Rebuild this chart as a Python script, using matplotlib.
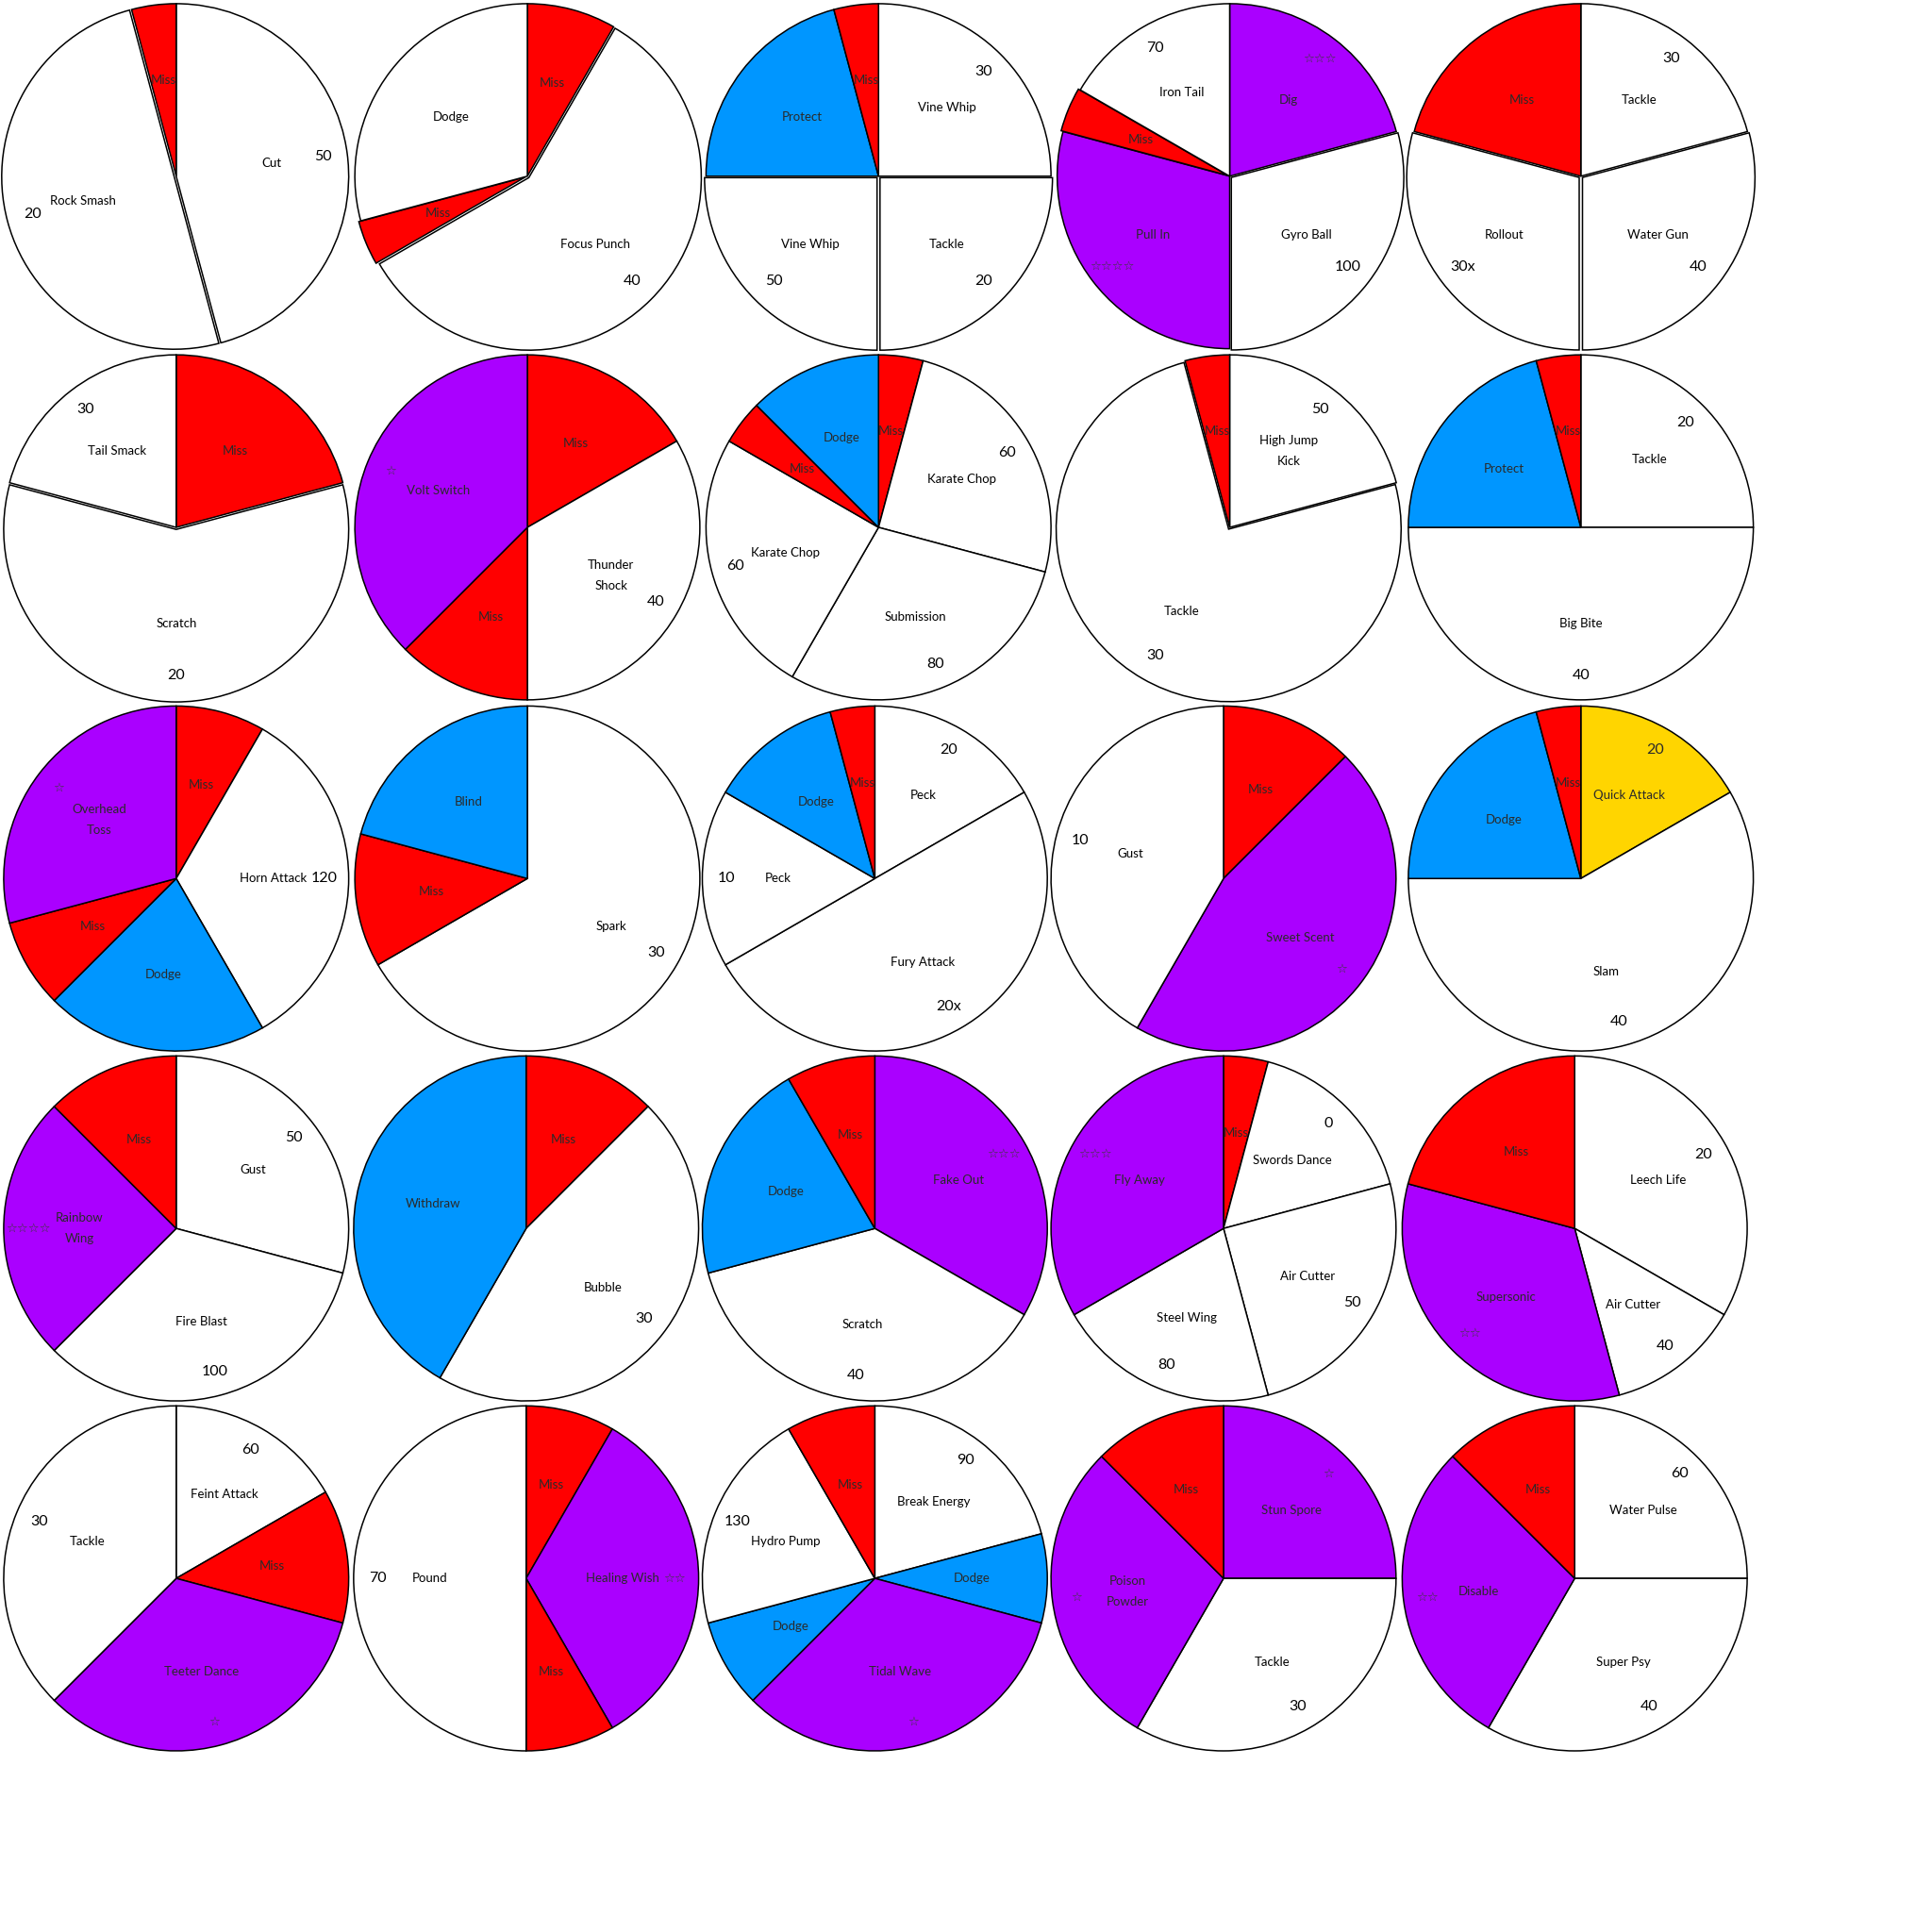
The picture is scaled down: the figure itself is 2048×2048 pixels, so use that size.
import numpy as np
import matplotlib.pyplot as plt

plt.rcParams['font.family'] = ['Lato', 'DejaVu Sans']

# kolo ataku: nazwy ruchow, rozmiar pola (na 96), typ pola, sila
moves = [
    ["Cut", "Rock Smash", "Miss"],
    ["Miss", "Focus Punch", "Miss", "Dodge"],
    ["Vine Whip", "Tackle", "Vine Whip", "Protect", "Miss"],
    ["Dig", "Gyro Ball", "Pull In", "Miss", "Iron Tail"],
    ["Tackle", "Water Gun", "Rollout", "Miss"],
    ["Miss", "Scratch", "Tail Smack"],
    ["Miss", "Thunder\nShock", "Miss", "Volt Switch"],
    ["Miss", "Karate Chop", "Submission", "Karate Chop", "Miss", "Dodge"],
    ["High Jump\nKick", "Tackle", "Miss"],
    ["Tackle", "Big Bite", "Protect", "Miss"],
    ["Miss", "Horn Attack", "Dodge", "Miss", "Overhead\nToss"],
    ["Spark", "Miss", "Blind"],
    ["Peck", "Fury Attack", "Peck", "Dodge", "Miss"],
    ["Miss", "Sweet Scent", "Gust"],
    ["Quick Attack", "Slam", "Dodge", "Miss"],
    ["Gust", "Fire Blast", "Rainbow\nWing", "Miss"],
    ["Miss", "Bubble", "Withdraw"],
    ["Fake Out", "Scratch", "Dodge", "Miss"],
    ["Miss", "Swords Dance", "Air Cutter", "Steel Wing", "Fly Away"],
    ["Leech Life", "Air Cutter", "Supersonic", "Miss"],
    ["Feint Attack", "Miss", "Teeter Dance", "Tackle"],
    ["Miss", "Healing Wish", "Miss", "Pound"],
    ["Break Energy", "Dodge", "Tidal Wave", "Dodge", "Hydro Pump", "Miss"],
    ["Stun Spore", "Tackle", "Poison\nPowder", "Miss"],
    ["Water Pulse", "Super Psy", "Disable", "Miss"],
]
sizes = [
    [44, 48, 4],
    [8, 56, 4, 28],
    [24, 24, 24, 20, 4],
    [20, 28, 28, 4, 16],
    [20, 28, 28, 20],
    [20, 56, 20],
    [16, 32, 12, 36],
    [4, 24, 28, 24, 4, 12],
    [20, 72, 4],
    [24, 48, 20, 4],
    [8, 32, 20, 8, 28],
    [64, 12, 20],
    [16, 48, 16, 12, 4],
    [12, 44, 40],
    [16, 56, 20, 4],
    [28, 32, 24, 12],
    [12, 44, 40],
    [32, 36, 20, 8],
    [4, 16, 24, 20, 32],
    [32, 12, 32, 20],
    [16, 12, 32, 36],
    [8, 32, 8, 48],
    [20, 8, 32, 8, 20, 8],
    [24, 32, 28, 12],
    [24, 32, 28, 12],
]
# W bialy, M miss, B niebieski, P fioletowy, Y zolty
kinds = [
    "WWM", "MWMW", "WWWBM", "PWPMW", "WWWM",
    "MWW", "MWMP", "MWWWMB", "WWM", "WWBM",
    "MWBMP", "WMB", "WWWBM", "MPW", "YWBM",
    "WWPM", "MWB", "PWBM", "MWWWP", "WWPM",
    "WMPW", "MPMW", "WBPBWM", "PWPM", "WWPM",
]
power = [
    ["50", "20", ""],
    ["", "40", "", ""],
    ["30", "20", "50", "", ""],
    ["☆☆☆", "100", "☆☆☆☆", "", "70"],
    ["30", "40", "30x", ""],
    ["", "20", "30"],
    ["", "40", "", "☆"],
    ["", "60", "80", "60", "", ""],
    ["50", "30", ""],
    ["20", "40", "", ""],
    ["", "120", "", "", "☆"],
    ["30", "", ""],
    ["20", "20x", "10", "", ""],
    ["", "☆", "10"],
    ["20", "40", "", ""],
    ["50", "100", "☆☆☆☆", ""],
    ["", "30", ""],
    ["☆☆☆", "40", "", ""],
    ["", "0", "50", "80", "☆☆☆"],
    ["20", "40", "☆☆", ""],
    ["60", "", "☆", "30"],
    ["", "☆☆", "", "70"],
    ["90", "", "☆", "", "130", ""],
    ["☆", "30", "☆", ""],
    ["60", "40", "☆☆", ""],
]

kolory = {"W": "#FFFFFF", "M": "#FF0000", "B": "#0096FF", "P": "#AA00FF", "Y": "#FFD500"}

# pola lekko wysuniete (jak w excelu)
wysuniete = {0: [1], 1: [1, 2], 2: [1, 2], 3: [1, 3], 4: [1, 2], 5: [1], 8: [1]}

# srodki kol w pikselach (obraz 1568) -> przeliczone na 2048
srodki = [
    (143, 143), (428, 143), (713, 143), (998, 143), (1283, 143),
    (143, 428), (428, 428), (713, 428), (998, 428), (1283, 428),
    (143, 713), (428, 713), (710, 713), (993, 713), (1283, 713),
    (143, 997), (427, 997), (710, 997), (993, 997), (1278, 997),
    (143, 1281), (427, 1281), (710, 1281), (993, 1281), (1278, 1281),
]
skala = 2048 / 1568
R = 140 * skala
m = 1.03  # margines osi

fig = plt.figure(figsize=(20.48, 20.48), dpi=100)
fig.patch.set_facecolor('white')

for i in range(25):
    cx, cy = srodki[i][0] * skala, srodki[i][1] * skala
    Ra = R * m
    ax = fig.add_axes([(cx - Ra) / 2048, 1 - (cy + Ra) / 2048, 2 * Ra / 2048, 2 * Ra / 2048])
    explode = [0.012 if j in wysuniete.get(i, []) else 0 for j in range(len(sizes[i]))]
    wedges, _ = ax.pie(sizes[i], colors=[kolory[k] for k in kinds[i]], explode=explode,
                       startangle=90, counterclock=False, radius=1,
                       wedgeprops=dict(edgecolor='black', linewidth=1.1))
    for w, nazwa, p, k in zip(wedges, moves[i], power[i], kinds[i]):
        kat = np.deg2rad((w.theta1 + w.theta2) / 2)
        kol = 'black' if k == 'W' else '#2a2a2a'
        ax.text(0.56 * np.cos(kat), 0.56 * np.sin(kat), nazwa, ha='center', va='center',
                fontsize=9.5, color=kol, linespacing=2.0)
        if p:
            if '☆' in p:
                ax.text(0.86 * np.cos(kat), 0.86 * np.sin(kat), p, ha='center', va='center',
                        fontsize=9.5, color='#3a3a3a', family='DejaVu Sans')
            else:
                ax.text(0.86 * np.cos(kat), 0.86 * np.sin(kat), p, ha='center', va='center',
                        fontsize=11.5, color=kol)
    ax.set_xlim(-m, m)
    ax.set_ylim(-m, m)
    ax.set_aspect('equal')
    ax.axis('off')

fig.savefig("out.png", dpi=100, facecolor='white')
plt.close()
